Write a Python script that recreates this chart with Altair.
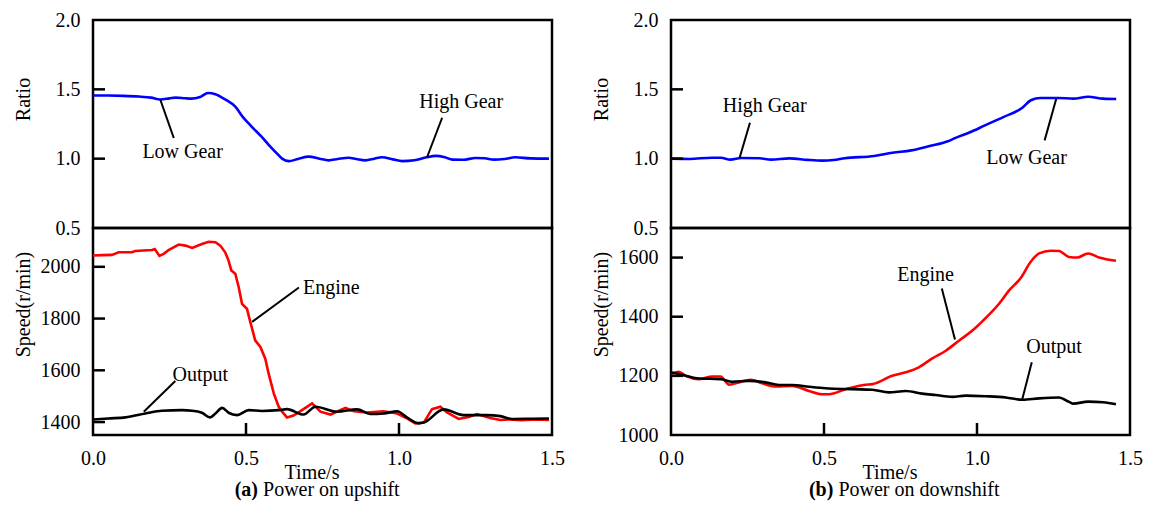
import altair as alt
import pandas as pd

# ---------------- (a) Power on upshift ----------------
up_ratio_t = [0.0, 0.05, 0.10, 0.15, 0.19, 0.22, 0.25, 0.27, 0.30, 0.32, 0.35, 0.376, 0.40, 0.43, 0.465,
              0.49, 0.52, 0.55, 0.574, 0.60, 0.618, 0.64, 0.67, 0.705, 0.74, 0.77, 0.80, 0.836, 0.86, 0.89,
              0.92, 0.944, 0.98, 1.01, 1.05, 1.09, 1.12, 1.15, 1.175, 1.21, 1.25, 1.28, 1.31, 1.345, 1.38,
              1.43, 1.49]
up_ratio_v = [1.455, 1.455, 1.453, 1.448, 1.44, 1.427, 1.435, 1.440, 1.436, 1.433, 1.445, 1.474, 1.465, 1.43,
              1.375, 1.30, 1.228, 1.16, 1.10, 1.04, 1.0, 0.982, 0.998, 1.015, 1.0, 0.988, 0.998, 1.007, 0.998,
              0.988, 1.0, 1.010, 0.995, 0.982, 0.988, 1.010, 1.02, 1.01, 0.993, 0.992, 1.005, 1.003, 0.993,
              0.998, 1.010, 1.002, 1.0]

up_eng_t = [0.0, 0.03, 0.062, 0.084, 0.127, 0.138, 0.193, 0.202, 0.217, 0.231, 0.247, 0.280, 0.302, 0.324,
            0.356, 0.378, 0.400, 0.416, 0.432, 0.443, 0.452, 0.465, 0.476, 0.487, 0.503, 0.514, 0.530, 0.547,
            0.563, 0.574, 0.591, 0.607, 0.618, 0.634, 0.655, 0.678, 0.716, 0.743, 0.776, 0.825, 0.852, 0.895,
            0.950, 0.994, 1.026, 1.053, 1.081, 1.108, 1.135, 1.157, 1.195, 1.228, 1.255, 1.298, 1.331, 1.36,
            1.40, 1.45, 1.49]
up_eng_v = [2044, 2045, 2046, 2056, 2056, 2061, 2065, 2069, 2042, 2050, 2065, 2086, 2082, 2073, 2088, 2097,
            2095, 2082, 2056, 2024, 1986, 1973, 1922, 1857, 1838, 1787, 1716, 1690, 1645, 1587, 1510, 1459,
            1440, 1418, 1425, 1442, 1472, 1440, 1429, 1455, 1442, 1437, 1442, 1433, 1414, 1395, 1398, 1450,
            1459, 1437, 1412, 1420, 1431, 1416, 1408, 1410, 1407, 1410, 1408]

up_out_t = [0.0, 0.05, 0.106, 0.171, 0.225, 0.291, 0.324, 0.356, 0.383, 0.400, 0.422, 0.443, 0.471, 0.509,
            0.552, 0.607, 0.634, 0.688, 0.727, 0.797, 0.863, 0.906, 0.950, 0.994, 1.026, 1.064, 1.081, 1.146,
            1.211, 1.287, 1.331, 1.37, 1.43, 1.49]
up_out_v = [1410, 1414, 1418, 1433, 1444, 1446, 1444, 1436, 1418, 1433, 1455, 1436, 1427, 1446, 1443, 1446,
            1450, 1429, 1459, 1440, 1449, 1431, 1433, 1442, 1418, 1395, 1398, 1449, 1427, 1427, 1423, 1412,
            1413, 1414]

# ---------------- (b) Power on downshift ----------------
dn_ratio_t = [0.0, 0.061, 0.133, 0.163, 0.194, 0.230, 0.290, 0.327, 0.387, 0.447, 0.495, 0.531, 0.568, 0.664,
              0.724, 0.785, 0.845, 0.905, 0.930, 0.977, 1.026, 1.086, 1.147, 1.176, 1.207, 1.267, 1.315, 1.363,
              1.412, 1.455]
dn_ratio_v = [1.0, 0.998, 1.007, 1.007, 0.993, 1.005, 1.003, 0.993, 1.002, 0.991, 0.986, 0.990, 1.003, 1.019,
              1.043, 1.060, 1.091, 1.125, 1.15, 1.19, 1.240, 1.300, 1.365, 1.421, 1.4375, 1.4375, 1.433, 1.447,
              1.433, 1.43]

dn_eng_t = [0.0, 0.026, 0.048, 0.092, 0.135, 0.162, 0.190, 0.222, 0.260, 0.298, 0.342, 0.396, 0.451, 0.494,
            0.516, 0.571, 0.636, 0.658, 0.723, 0.767, 0.810, 0.854, 0.898, 0.941, 0.985, 1.028, 1.072, 1.105,
            1.143, 1.175, 1.203, 1.241, 1.268, 1.301, 1.327, 1.363, 1.399, 1.454]
dn_eng_v = [1206, 1214, 1200, 1189, 1198, 1198, 1170, 1178, 1187, 1175, 1164, 1166, 1149, 1138, 1138, 1155,
            1170, 1172, 1200, 1212, 1229, 1259, 1285, 1319, 1353, 1395, 1444, 1489, 1531, 1585, 1614, 1623,
            1622, 1602, 1600, 1614, 1600, 1589]

dn_out_t = [0.0, 0.026, 0.092, 0.162, 0.200, 0.255, 0.309, 0.353, 0.396, 0.451, 0.505, 0.592, 0.658, 0.712,
            0.767, 0.821, 0.865, 0.919, 0.963, 1.028, 1.094, 1.148, 1.203, 1.267, 1.301, 1.315, 1.363, 1.412,
            1.454]
dn_out_v = [1212, 1206, 1191, 1189, 1180, 1183, 1178, 1169, 1169, 1163, 1158, 1155, 1153, 1144, 1149, 1140,
            1135, 1129, 1133, 1131, 1127, 1119, 1124, 1127, 1112, 1106, 1113, 1111, 1104]

# ---------------- axes ----------------
x_label_values = [0.0, 0.5, 1.0, 1.5]
x_tick_marks = [0.5, 1.0]
ratio_label_values = [2.0, 1.5, 1.0, 0.5]
ratio_tick_marks = [1.5, 1.0]
up_speed_label_values = [1400, 1600, 1800, 2000]
up_speed_tick_marks = [1400, 1600, 1800, 2000]
dn_speed_label_values = [1000, 1200, 1400, 1600]
dn_speed_tick_marks = [1200, 1400, 1600]

# ---------------- annotations: (text, t, v) and leaders (t, v, t2, v2) ----------------
up_ratio_notes = [("Low Gear", 0.293, 1.048), ("High Gear", 1.203, 1.409)]
up_ratio_leaders = [(0.220, 1.425, 0.264, 1.149), (1.092, 1.012, 1.141, 1.295)]
up_speed_notes = [("Engine", 0.779, 1919), ("Output", 0.351, 1581)]
up_speed_leaders = [(0.520, 1787, 0.673, 1920), (0.166, 1440, 0.269, 1559)]
dn_ratio_notes = [("High Gear", 0.306, 1.380), ("Low Gear", 1.162, 1.005)]
dn_ratio_leaders = [(0.224, 1.005, 0.258, 1.259), (1.259, 1.432, 1.221, 1.132)]
dn_speed_notes = [("Engine", 0.832, 1540), ("Output", 1.252, 1297)]
dn_speed_leaders = [(0.928, 1323, 0.885, 1495), (1.148, 1121, 1.179, 1246)]

captions = [("(a)", "Power on upshift", 0.5425), ("(b)", "Power on downshift", 0.534)]

FONT = "'Liberation Serif', 'Times New Roman', Times, serif"
FS = 20
W = 459
H_TOP = 208
H_BOT = 207


def panel(series, ydomain, ylabels, ytickmarks, yfmt, ytitle, title_y, height,
          notes, leaders, bottom, caption=None):
    xs = alt.Scale(domain=[0, 1.5], nice=False, zero=False)
    ys = alt.Scale(domain=ydomain, nice=False, zero=False)
    if bottom:
        xaxis = alt.Axis(values=x_label_values, format=".1f", ticks=False, domain=False, grid=False,
                         labelFont=FONT, labelFontSize=FS, labelColor="black", labelPadding=13,
                         labelFlush=False, labelOverlap=False,
                         title="Time/s", titleFont=FONT, titleFontSize=FS, titleFontWeight="normal",
                         titleColor="black", titleX=W / 2 - 11, titleY=37, titleAlign="center",
                         titleBaseline="middle")
    else:
        xaxis = None
    yaxis = alt.Axis(values=ylabels, format=yfmt, ticks=False, domain=False, grid=False,
                     labelFont=FONT, labelFontSize=FS, labelColor="black", labelPadding=13,
                     labelOverlap=False, labelFlush=False,
                     title=ytitle, titleFont=FONT, titleFontSize=FS, titleFontWeight="normal",
                     titleColor="black", titleX=-70, titleY=title_y, titleAngle=-90,
                     titleAlign="center", titleBaseline="middle")
    X = alt.X("t:Q", scale=xs, axis=xaxis)
    Y = alt.Y("v:Q", scale=ys, axis=yaxis)

    layers = []
    for ts, vs, color, interp in series:
        df = pd.DataFrame({"t": ts, "v": vs})
        layers.append(alt.Chart(df).mark_line(color=color, strokeWidth=2.6, interpolate=interp,
                                              clip=True).encode(x=X, y=Y))
    # inward y ticks
    layers.append(alt.Chart(pd.DataFrame({"v": ytickmarks})).mark_rule(color="black", strokeWidth=2.5)
                  .encode(y=Y, x=alt.value(0), x2=alt.value(12)))
    if bottom:
        layers.append(alt.Chart(pd.DataFrame({"t": x_tick_marks})).mark_rule(color="black", strokeWidth=2.5)
                      .encode(x=X, y=alt.value(height), y2=alt.value(height - 12)))
    ldf = pd.DataFrame(leaders, columns=["t", "v", "t2", "v2"])
    layers.append(alt.Chart(ldf).mark_rule(color="black", strokeWidth=2)
                  .encode(x=X, y=Y, x2="t2:Q", y2="v2:Q"))
    ndf = pd.DataFrame(notes, columns=["label", "t", "v"])
    layers.append(alt.Chart(ndf).mark_text(font=FONT, fontSize=FS, color="black", align="center",
                                           baseline="middle")
                  .encode(x=X, y=Y, text="label:N"))
    if caption is not None:
        tag, rest, split = caption
        cdf = pd.DataFrame({"t": [split], "tag": [tag], "rest": [rest]})
        layers.append(alt.Chart(cdf).mark_text(font=FONT, fontSize=FS, fontWeight="bold", color="black",
                                               align="right", baseline="middle", dx=-1)
                      .encode(x=X, y=alt.value(262), text="tag:N"))
        layers.append(alt.Chart(cdf).mark_text(font=FONT, fontSize=FS, color="black",
                                               align="left", baseline="middle", dx=4)
                      .encode(x=X, y=alt.value(262), text="rest:N"))
    return alt.layer(*layers).properties(width=W, height=height)


a_top = panel([(up_ratio_t, up_ratio_v, "#0000ff", "monotone")], [0.5, 2.0], ratio_label_values,
              ratio_tick_marks, ".1f", "Ratio", 79, H_TOP, up_ratio_notes, up_ratio_leaders, False)
a_bot = panel([(up_eng_t, up_eng_v, "#ff0000", "linear"), (up_out_t, up_out_v, "#000000", "monotone")],
              [1350, 2150], up_speed_label_values, up_speed_tick_marks, "d", "Speed(r/min)", 76, H_BOT,
              up_speed_notes, up_speed_leaders, True, captions[0])
b_top = panel([(dn_ratio_t, dn_ratio_v, "#0000ff", "monotone")], [0.5, 2.0], ratio_label_values,
              ratio_tick_marks, ".1f", "Ratio", 79, H_TOP, dn_ratio_notes, dn_ratio_leaders, False)
b_bot = panel([(dn_eng_t, dn_eng_v, "#ff0000", "monotone"), (dn_out_t, dn_out_v, "#000000", "monotone")],
              [1000, 1700], dn_speed_label_values, dn_speed_tick_marks, "d", "Speed(r/min)", 76, H_BOT,
              dn_speed_notes, dn_speed_leaders, True, captions[1])

left = alt.VConcatChart(vconcat=[a_top, a_bot], spacing=0, bounds="flush")
right = alt.VConcatChart(vconcat=[b_top, b_bot], spacing=0, bounds="flush")
chart = (alt.HConcatChart(hconcat=[left, right], spacing=23)
         .properties(padding={"left": 11, "top": 8, "right": 5, "bottom": 5}, background="white")
         .configure(font=FONT)
         .configure_view(stroke="black", strokeWidth=2.5)
         .resolve_scale(x="independent", y="independent"))

chart.save("out.html", embed_options={"renderer": "svg", "actions": False})
